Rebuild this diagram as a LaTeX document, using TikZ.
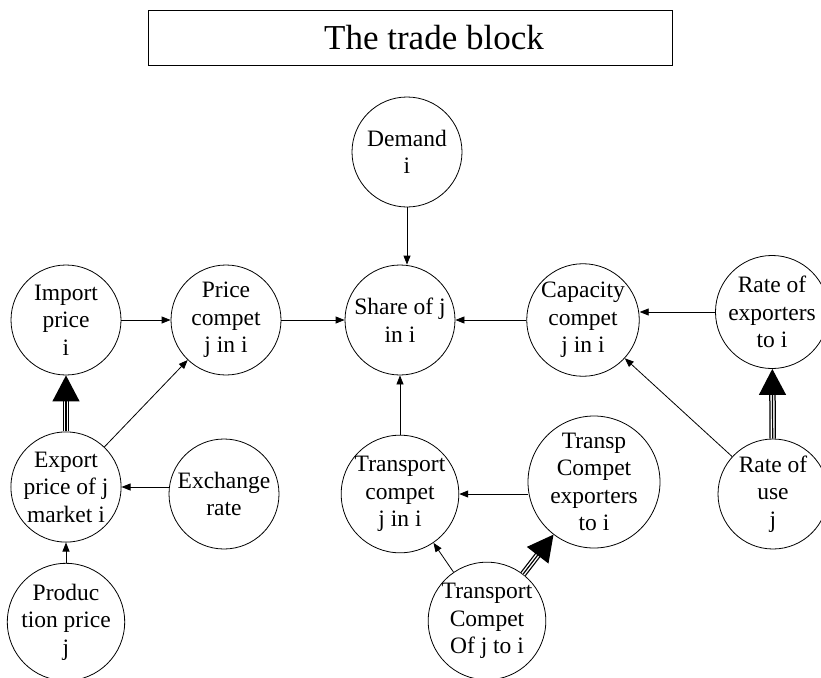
\documentclass[tikz,border=0pt]{standalone}
\usepackage{fontspec}
\setmainfont{Liberation Serif}
\usetikzlibrary{arrows.meta}

\tikzset{
  circ/.style={draw, circle, line width=0.8pt, minimum size=110pt, inner sep=0pt,
    align=center, font=\fontsize{23.5}{27.5}\selectfont},
  arr/.style={-{Triangle[length=9pt,width=7pt]}, line width=0.8pt},
  bigarr/.style={-{Triangle[length=26pt,width=27pt]}, line width=1.2pt,
    preaction={draw, -, line width=6.5pt, shorten >=20pt},
    preaction={draw, -, white, line width=4pt, shorten >=20pt}},
}

\begin{document}
\begin{tikzpicture}[x=1pt, y=-1pt]
\useasboundingbox (0,0) rectangle (821,677);

\node[draw, line width=0.8pt, minimum width=524pt, minimum height=55pt,
  font=\fontsize{35}{40}\selectfont] (title) at (410,37.5) {\hspace*{48pt}The trade block};

\node[circ] (dem) at (407,152) {Demand\\i};
\node[circ] (imp) at (66,320) {Import\\price\\i};
\node[circ] (pc) at (226,320) {Price\\compet\\j in i};
\node[circ] (share) at (400,320) {Share of j\\in i};
\node[circ] (cap) at (583,320) {Capacity\\compet\\j in i};
\node[circ] (rexp) at (772,312) {Rate of\\exporters\\to i};

\node[circ] (exp) at (66,487) {Export\\price of j\\market i};
\node[circ] (xr) at (224,494) {Exchange\\rate};
\node[circ] (prod) at (66,622) {Produc\\tion price\\j};
\node[circ] (tc) at (400,494) {Transport\\compet\\j in i};
\node[circ, minimum size=132pt] (tce) at (594,482) {Transp\\Compet\\exporters\\to i};
\node[circ] (tcj) at (487,621) {Transport\\Compet\\Of j to i};
\node[circ] (use) at (773,494) {Rate of\\use\\j};

\draw[arr] (dem.south) -- (dem.south |- share.north);
\draw[arr] (imp) -- (pc);
\draw[arr] (pc) -- (share);
\draw[arr] (cap) -- (share);
\draw[arr] (rexp.west) -- (rexp.west -| cap.east); % exporters -> capacity
\draw[arr] (use) -- (cap);
\draw[bigarr] (use) -- (rexp);

\draw[bigarr] (exp) -- (imp);
\draw[arr] (exp) -- (pc);
\draw[arr] (xr.west |- exp.east) -- (exp.east);
\draw[arr] (prod) -- (exp);

\draw[arr] (tc) -- (share);
\draw[arr] (tce.west |- tc.east) -- (tc.east);
\draw[arr] (tcj) -- (tc);
\draw[bigarr] (tcj) -- (tce); % triple arrow

\end{tikzpicture}
\end{document}
